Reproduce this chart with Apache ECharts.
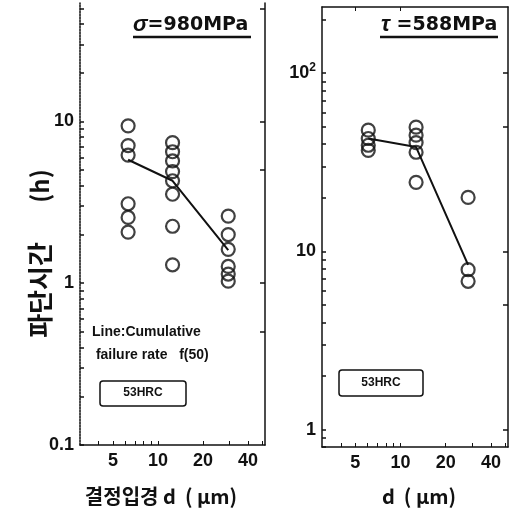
<!DOCTYPE html>
<html>
<head>
<meta charset="utf-8">
<script src="https://cdn.jsdelivr.net/npm/echarts@6/dist/echarts.min.js"></script>
<style>
  html, body { margin: 0; padding: 0; background: #fff; }
  #chart { width: 513px; height: 514px; }
</style>
</head>
<body>
<div id="chart"></div>
<script>
// left panel: sigma = 980 MPa
const leftD = [6.3, 12.5, 29.5];
const leftTimes = [
  [9.4, 7.1, 6.2, 3.1, 2.55, 2.07],
  [7.4, 6.5, 5.7, 4.9, 4.3, 3.55, 2.25, 1.3],
  [2.6, 2.0, 1.62, 1.27, 1.14, 1.03]
];
const leftF50 = [5.8, 4.3, 1.6];

// right panel: tau = 588 MPa
const rightD = [6.1, 12.7, 28.2];
const rightTimes = [
  [47.9, 43, 39.4, 36.9],
  [49.8, 44.9, 40.8, 36, 24.4],
  [20.1, 7.9, 6.8]
];
const rightF50 = [43, 38.5, 8.4];

const xLabels = [5, 10, 20, 40];
const leftYLabels = [0.1, 1, 10];
const rightYLabels = [1, 10, 100];

const font = 'Liberation Sans, Arial, sans-serif';
const kfont = 'Noto Sans CJK KR, sans-serif';
const ink = '#111';

const points = (ds, groups) => {
  const out = [];
  groups.forEach((g, i) => g.forEach((v) => out.push([ds[i], v])));
  return out;
};

const logMinor = (lo, hi) => {
  const out = [];
  for (let e = -2; e <= 3; e++) {
    for (let m = 1; m <= 9; m++) {
      const v = +(m * Math.pow(10, e)).toPrecision(3);
      if (v >= lo && v <= hi) out.push(v);
    }
  }
  return out;
};

const xAxisBase = (gridIndex) => ({
  type: 'log',
  gridIndex,
  min: 3,
  max: 52,
  position: 'bottom',
  axisLine: { show: true, lineStyle: { color: ink, width: 1.5 } },
  axisTick: { show: true, inside: true, length: 4, customValues: [4, 5, 6, 7, 8, 9, 10, 20, 30, 40, 50], lineStyle: { color: ink } },
  axisLabel: { customValues: xLabels, color: ink, fontSize: 18, fontWeight: 'bold', fontFamily: font, margin: 7 },
  splitLine: { show: false }
});

const chart = echarts.init(document.getElementById('chart'));

chart.setOption({
  animation: false,
  grid: [
    { left: 80, top: 3, width: 185, height: 442 },
    { left: 322, top: 7, width: 186, height: 440 }
  ],
  xAxis: [
    xAxisBase(0),
    xAxisBase(1),
    {
      type: 'log', gridIndex: 1, min: 3, max: 52, position: 'top',
      axisLine: { show: true, lineStyle: { color: ink, width: 1.5 } },
      axisTick: { show: true, inside: true, length: 4, customValues: [5, 10], lineStyle: { color: ink } },
      axisLabel: { show: false },
      splitLine: { show: false }
    }
  ],
  yAxis: [
    {
      type: 'log', gridIndex: 0, min: 0.1, max: 54, position: 'left',
      axisLine: { show: true, lineStyle: { color: ink, width: 1.5, type: [2, 1] } },
      axisTick: { show: true, inside: true, length: 4, customValues: logMinor(0.1, 54), lineStyle: { color: ink, width: 1.5 } },
      axisLabel: {
        customValues: leftYLabels, color: ink, fontSize: 18, fontWeight: 'bold', fontFamily: font, margin: 6,
        formatter: (v) => String(+v.toPrecision(2))
      },
      splitLine: { show: false }
    },
    {
      type: 'log', gridIndex: 0, min: 0.1, max: 54, position: 'right',
      axisLine: { show: true, lineStyle: { color: ink, width: 1.5 } },
      axisTick: { show: true, inside: true, length: 5, customValues: [0.5, 1, 5, 10, 50], lineStyle: { color: ink, width: 1.5 } },
      axisLabel: { show: false },
      splitLine: { show: false }
    },
    {
      type: 'log', gridIndex: 1, min: 0.8, max: 235, position: 'left',
      axisLine: { show: true, lineStyle: { color: ink, width: 1.5 } },
      axisTick: { show: true, inside: true, length: 4, customValues: logMinor(0.8, 235), lineStyle: { color: ink, width: 1.5 } },
      axisLabel: {
        customValues: rightYLabels, fontFamily: font, margin: 6,
        formatter: (v) => (Math.round(v) === 100 ? '{b|10}{s|2}' : '{b|' + Math.round(v) + '}'),
        rich: {
          b: { color: ink, fontSize: 18, fontWeight: 'bold', fontFamily: font },
          s: { color: ink, fontSize: 12, fontWeight: 'bold', fontFamily: font, verticalAlign: 'top', padding: [0, 0, 10, 0] }
        }
      },
      splitLine: { show: false }
    },
    {
      type: 'log', gridIndex: 1, min: 0.8, max: 235, position: 'right',
      axisLine: { show: true, lineStyle: { color: ink, width: 1.5 } },
      axisTick: { show: true, inside: true, length: 5, customValues: [1, 5, 10, 50, 100], lineStyle: { color: ink, width: 1.5 } },
      axisLabel: { show: false },
      splitLine: { show: false }
    }
  ],
  series: [
    {
      type: 'line', xAxisIndex: 0, yAxisIndex: 0,
      data: leftD.map((d, i) => [d, leftF50[i]]),
      showSymbol: false, lineStyle: { color: ink, width: 2 }, z: 3
    },
    {
      type: 'scatter', xAxisIndex: 0, yAxisIndex: 0,
      data: points(leftD, leftTimes),
      symbol: 'circle', symbolSize: 13,
      itemStyle: { color: 'rgba(255,255,255,0)', borderColor: ink, borderWidth: 2.2 }, z: 4
    },
    {
      type: 'line', xAxisIndex: 1, yAxisIndex: 2,
      data: rightD.map((d, i) => [d, rightF50[i]]),
      showSymbol: false, lineStyle: { color: ink, width: 2 }, z: 3
    },
    {
      type: 'scatter', xAxisIndex: 1, yAxisIndex: 2,
      data: points(rightD, rightTimes),
      symbol: 'circle', symbolSize: 13,
      itemStyle: { color: 'rgba(255,255,255,0)', borderColor: ink, borderWidth: 2.2 }, z: 4
    }
  ],
  graphic: [
    // panel titles
    {
      type: 'text', left: 133, top: 14,
      style: {
        text: '{i|σ}{n|=980MPa}',
        rich: {
          i: { fontSize: 22, fontStyle: 'italic', fontWeight: 'bold', fontFamily: font, fill: ink },
          n: { fontSize: 19, fontWeight: 'bold', fontFamily: 'DejaVu Sans', fill: ink }
        }
      }
    },
    { type: 'line', shape: { x1: 133, y1: 37, x2: 251, y2: 37 }, style: { stroke: ink, lineWidth: 2.5 } },
    {
      type: 'text', left: 381, top: 14,
      style: {
        text: '{i|τ}{n| =588MPa}',
        rich: {
          i: { fontSize: 22, fontStyle: 'italic', fontWeight: 'bold', fontFamily: font, fill: ink },
          n: { fontSize: 19, fontWeight: 'bold', fontFamily: 'DejaVu Sans', fill: ink }
        }
      }
    },
    { type: 'line', shape: { x1: 380, y1: 37, x2: 498, y2: 37 }, style: { stroke: ink, lineWidth: 2.5 } },
    // legend note
    {
      type: 'text', left: 92, top: 321,
      style: { text: 'Line:Cumulative\n failure rate   f(50)', fontSize: 14, fontWeight: 'bold', lineHeight: 23, fontFamily: font, fill: ink }
    },
    // steel hardness boxes
    {
      type: 'rect', shape: { x: 100, y: 381, width: 86, height: 25, r: 3 },
      style: { fill: 'none', stroke: ink, lineWidth: 1.5 }
    },
    {
      type: 'text', x: 143, y: 393,
      style: { text: '53HRC', fontSize: 12, fontWeight: 'bold', fontFamily: font, fill: ink, align: 'center', verticalAlign: 'middle' }
    },
    {
      type: 'rect', shape: { x: 339, y: 370, width: 84, height: 26, r: 3 },
      style: { fill: 'none', stroke: ink, lineWidth: 1.5 }
    },
    {
      type: 'text', x: 381, y: 383,
      style: { text: '53HRC', fontSize: 12, fontWeight: 'bold', fontFamily: font, fill: ink, align: 'center', verticalAlign: 'middle' }
    },
    // axis names
    {
      type: 'text', x: 40, y: 290, rotation: Math.PI / 2,
      style: { text: '파단시간', fontSize: 26, fontWeight: 'bold', fontFamily: kfont, fill: ink, align: 'center', verticalAlign: 'middle' }
    },
    {
      type: 'text', x: 40, y: 186, rotation: Math.PI / 2,
      style: { text: '(h)', fontSize: 24, fontWeight: 'bold', fontFamily: kfont, fill: ink, align: 'center', verticalAlign: 'middle' }
    },
    {
      type: 'text', x: 161, y: 496,
      style: { text: '결정입경 d  ( μm)', fontSize: 20, fontWeight: 'bold', fontFamily: kfont, fill: ink, align: 'center', verticalAlign: 'middle' }
    },
    {
      type: 'text', x: 419, y: 496,
      style: { text: 'd  ( μm)', fontSize: 20, fontWeight: 'bold', fontFamily: kfont, fill: ink, align: 'center', verticalAlign: 'middle' }
    }
  ]
});
</script>
</body>
</html>
